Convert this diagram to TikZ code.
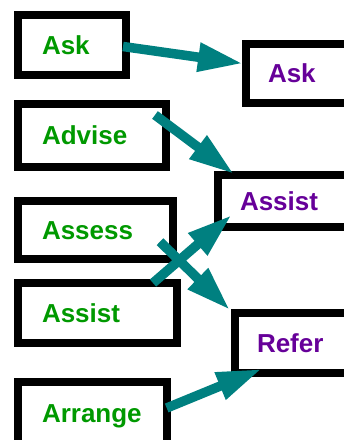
\documentclass[tikz,border=0pt]{standalone}
\usepackage{fontspec}
\setsansfont{Liberation Sans}
\usetikzlibrary{positioning, arrows.meta}

\definecolor{srcgreen}{RGB}{0,153,0}
\definecolor{dstpurple}{RGB}{102,0,153}
\definecolor{flowteal}{RGB}{0,128,128}

\begin{document}
\begin{tikzpicture}[
    x=1pt, y=1pt,
    src node/.style={
        draw=black, fill=white, rectangle, line width=8pt,
        text width=#1, inner xsep=24pt, align=left,
        text height=18.6pt, text depth=0pt, text=srcgreen,
        font=\sffamily\bfseries\fontsize{26}{30}\selectfont
    },
    dst node/.style={
        draw=black, fill=white, rectangle, line width=8pt,
        text width=110pt, inner xsep=22pt, align=left,
        text height=18.6pt, text depth=0pt, text=dstpurple,
        font=\sffamily\bfseries\fontsize{26}{30}\selectfont
    },
    flow/.style={-{Triangle[length=45pt, width=27pt]}, line width=9.5pt, draw=flowteal}
]

% Marco fijo de la figura
\useasboundingbox (0,0) rectangle (344,-440);

% ------------------------------------------------------------------------------
% 1. COLUMNA IZQUIERDA (Posicionamiento relativo hacia abajo)
% ------------------------------------------------------------------------------
\node[src node=60pt, minimum height=60pt, anchor=north west] (askL) at (14,-11) {Ask};
\node[src node=100pt, minimum height=63pt, below=21pt of askL.south west, anchor=north west] (adviseL) {Advise};
\node[src node=107pt, minimum height=58pt, below=26pt of adviseL.south west, anchor=north west] (assessL) {Assess};
\node[src node=111pt, minimum height=60pt, below=16pt of assessL.south west, anchor=north west] (assistL) {Assist};
\node[src node=101pt, minimum height=63pt, below=31pt of assistL.south west, anchor=north west] (arrangeL) {Arrange};

% ------------------------------------------------------------------------------
% 2. COLUMNA DERECHA (cortada por el borde)
% ------------------------------------------------------------------------------
\node[dst node, minimum height=59pt, anchor=north west] (askR) at (242,-40) {Ask};
\node[dst node, minimum height=52pt, anchor=north west] (assistR) at (214,-171) {Assist};
\node[dst node, minimum height=60pt, anchor=north west] (referR) at (231,-309) {Refer};

% ------------------------------------------------------------------------------
% 3. FLECHAS
% ------------------------------------------------------------------------------
\draw[flow] ([shift={(-7,-1.5)}]askL.east) -- ([shift={(1,10)}]askR.west);
\draw[flow] ([shift={(-15,-15)}]adviseL.north east) -- ([shift={(20,-3)}]assistR.north west);
\draw[flow] ([shift={(-17,-11.7)}]assessL.east) -- ([shift={(-1,-1)}]referR.north west);
\draw[flow] ([shift={(-28,-4)}]assistL.north east) -- ([shift={(17.7,16)}]assistR.south west);
\draw[flow] ([shift={(-4.3,5.5)}]arrangeL.east) -- ([shift={(30.7,8)}]referR.south west);

\end{tikzpicture}
\end{document}
